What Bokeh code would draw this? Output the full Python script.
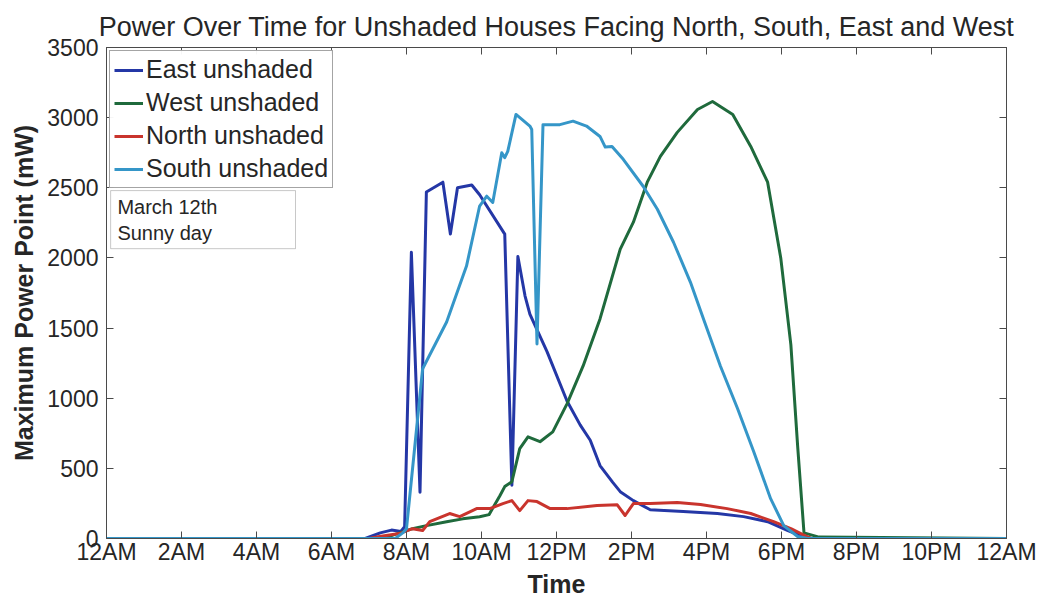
from bokeh.plotting import figure
from bokeh.models import (LinearAxis, FixedTicker, Legend, LegendItem, Label,
                          BoxAnnotation, Range1d, CustomLabelingPolicy)
from bokeh.embed import file_html
from bokeh.resources import INLINE

# ---- data: time of day in hours, maximum power point in mW ----
east_hours = [0, 6.9, 7.3, 7.6, 7.85, 7.95, 8.13, 8.36, 8.53, 8.97, 9.17, 9.36, 9.74,
              9.95, 10.62, 10.81, 10.97, 11.16, 11.29, 11.75, 12.28, 12.63, 12.9, 13.16,
              13.5, 13.7, 14.05, 14.5, 15.38, 16.29, 16.99, 17.63, 18.17, 18.51, 18.8, 24]
east_mw = [0, 0, 40, 60, 50, 85, 2040, 330, 2470, 2540, 2170, 2500, 2520,
           2450, 2170, 380, 2010, 1730, 1600, 1330, 980, 810, 700, 520,
           400, 334, 270, 205, 192, 178, 156, 120, 57, 21, 0, 0]

west_hours = [0, 7.2, 7.6, 8.16, 8.5, 9.07, 9.5, 9.95, 10.2, 10.49, 10.62, 10.81, 11.02,
              11.24, 11.56, 11.9, 12.28, 12.71, 13.16, 13.7, 14.05, 14.42, 14.77, 15.22,
              15.76, 16.16, 16.7, 17.18, 17.63, 17.98, 18.25, 18.43, 18.6, 19.0, 24]
west_mw = [0, 0, 20, 70, 90, 120, 140, 155, 170, 305, 370, 405, 640,
           725, 690, 760, 960, 1230, 1565, 2063, 2255, 2540, 2724, 2895,
           3058, 3115, 3023, 2795, 2540, 2000, 1380, 660, 40, 10, 0]

north_hours = [0, 7.0, 7.28, 7.81, 8.16, 8.43, 8.62, 9.15, 9.42, 9.87, 10.22, 10.57,
               10.81, 11.02, 11.24, 11.48, 11.83, 12.28, 13.08, 13.62, 13.83, 14.05,
               14.5, 15.22, 15.84, 16.55, 17.18, 17.79, 18.25, 18.57, 18.8, 24]
north_mw = [0, 0, 14, 35, 70, 57, 120, 178, 156, 213, 213, 249,
            270, 199, 270, 263, 213, 213, 235, 240, 164, 249,
            249, 256, 242, 213, 178, 120, 71, 28, 0, 0]

south_hours = [0, 7.7, 7.9, 8.0, 8.43, 9.07, 9.6, 9.95, 10.14, 10.3, 10.54, 10.62, 10.7,
               10.92, 11.29, 11.34, 11.48, 11.64, 12.09, 12.44, 12.8, 13.16, 13.3, 13.48,
               13.78, 14.31, 14.69, 15.12, 15.57, 15.92, 16.37, 16.83, 17.26, 17.71,
               18.06, 18.43, 18.7, 24]
south_mw = [0, 0, 40, 70, 1210, 1543, 1942, 2370, 2440, 2395, 2750, 2715, 2760,
            3023, 2940, 2915, 1387, 2950, 2950, 2975, 2940, 2866, 2790, 2795,
            2703, 2511, 2347, 2112, 1828, 1565, 1230, 925, 619, 284,
            92, 14, 0, 0]

tick_hours = [0, 2, 4, 6, 8, 10, 12, 14, 16, 18, 20, 22, 24]
tick_labels = ["12AM", "2AM", "4AM", "6AM", "8AM", "10AM", "12PM",
               "2PM", "4PM", "6PM", "8PM", "10PM", "12AM"]
y_ticks = [0, 500, 1000, 1500, 2000, 2500, 3000, 3500]

FONT = "Liberation Sans"
TEXT = "#262626"
FRAME = "#4a4a4a"

p = figure(width=1042, height=600, output_backend="svg", toolbar_location=None,
           x_range=Range1d(0, 24), y_range=Range1d(0, 3500),
           min_border_left=106, min_border_right=36, min_border_top=47,
           min_border_bottom=62,
           title="Power Over Time for Unshaded Houses Facing North, South, East and West")
p.background_fill_color = "white"
p.border_fill_color = "white"
p.outline_line_color = FRAME
p.outline_line_width = 1
p.grid.visible = False

p.title.text_font = FONT
p.title.text_font_size = "27px"
p.title.text_font_style = "normal"
p.title.text_color = TEXT
p.title.align = "center"
p.title.standoff = 4

# bottom / left axes with labels
xa = p.xaxis[0]
xa.ticker = FixedTicker(ticks=tick_hours)
xa.major_label_overrides = {h: lab for h, lab in zip(tick_hours, tick_labels)}
ya = p.yaxis[0]
ya.ticker = FixedTicker(ticks=y_ticks)

for ax in (xa, ya):
    ax.axis_line_color = FRAME
    ax.major_tick_line_color = FRAME
    ax.major_tick_in = 7
    ax.major_tick_out = 0
    ax.minor_tick_line_color = None
    ax.major_label_text_font = FONT
    ax.major_label_text_font_size = "23px"
    ax.major_label_text_color = TEXT
    ax.axis_label_text_font = FONT
    ax.axis_label_text_font_size = "25px"
    ax.axis_label_text_font_style = "bold"
    ax.axis_label_text_color = TEXT

xa.axis_label = "Time"
xa.major_label_standoff = 0
xa.axis_label_standoff = 2
ya.axis_label = "Maximum Power Point (mW)"
ya.major_label_standoff = 8
ya.axis_label_standoff = 6

# tick marks on the top and right edges of the box, without labels
no_labels = CustomLabelingPolicy(code="""
    for (const i of indices) indices.unset(i)
    return indices
""")
top = LinearAxis(ticker=FixedTicker(ticks=tick_hours))
right = LinearAxis(ticker=FixedTicker(ticks=y_ticks))
for ax in (top, right):
    ax.axis_line_color = FRAME
    ax.major_tick_line_color = FRAME
    ax.major_tick_in = 7
    ax.major_tick_out = 0
    ax.minor_tick_line_color = None
    ax.major_label_policy = no_labels
    ax.major_label_standoff = 0
    ax.major_label_text_font_size = "1px"
p.add_layout(top, "above")
p.add_layout(right, "right")

series = [
    ("East unshaded", east_hours, east_mw, "#2437a6"),
    ("West unshaded", west_hours, west_mw, "#1f6a3c"),
    ("North unshaded", north_hours, north_mw, "#c9342d"),
    ("South unshaded", south_hours, south_mw, "#3596c8"),
]
items = []
for name, xs, ys, color in series:
    r = p.line(xs, ys, line_color=color, line_width=3, line_join="round")
    items.append(LegendItem(label=name, renderers=[r]))

legend = Legend(items=items, location="top_left")
legend.margin = 3
legend.padding = 4
legend.spacing = 4
legend.label_height = 26
legend.glyph_height = 26
legend.glyph_width = 29
legend.label_standoff = 3
legend.label_text_font = FONT
legend.label_text_font_size = "25px"
legend.label_text_color = TEXT
legend.border_line_color = FRAME
legend.border_line_width = 1
legend.background_fill_color = "white"
p.add_layout(legend)

# note box under the legend
note_box = BoxAnnotation(left=0.11, right=5.04, top=2480, bottom=2066,
                         fill_color="white", fill_alpha=1,
                         line_color=FRAME, line_width=1)
p.add_layout(note_box)
for txt, yv in (("March 12th", 2360), ("Sunny day", 2180)):
    p.add_layout(Label(x=0.29, y=yv, text=txt, text_font=FONT,
                       text_font_size="20px", text_color=TEXT,
                       text_baseline="middle"))

open("out.html", "w").write(file_html(p, INLINE))
